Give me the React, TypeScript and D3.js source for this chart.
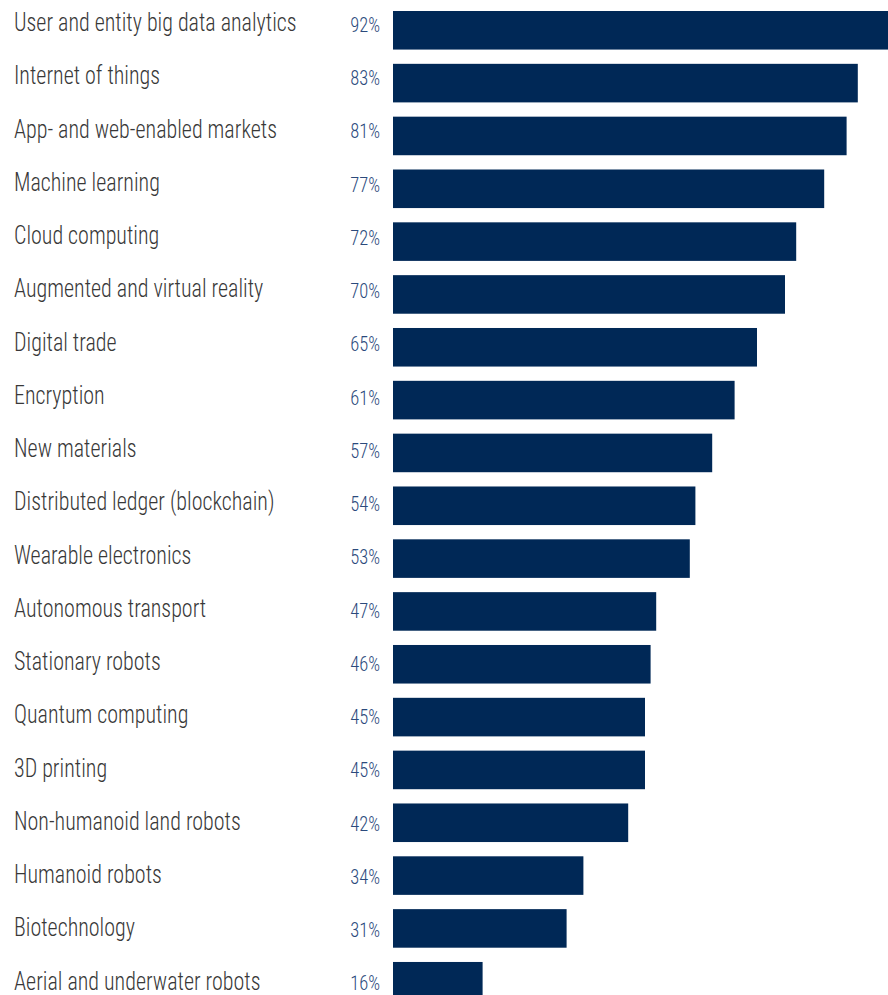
import React from "react";
import * as d3 from "d3";

const categories = [
  "User and entity big data analytics",
  "Internet of things",
  "App- and web-enabled markets",
  "Machine learning",
  "Cloud computing",
  "Augmented and virtual reality",
  "Digital trade",
  "Encryption",
  "New materials",
  "Distributed ledger (blockchain)",
  "Wearable electronics",
  "Autonomous transport",
  "Stationary robots",
  "Quantum computing",
  "3D printing",
  "Non-humanoid land robots",
  "Humanoid robots",
  "Biotechnology",
  "Aerial and underwater robots",
];
const values = [92, 83, 81, 77, 72, 70, 65, 61, 57, 54, 53, 47, 46, 45, 45, 42, 34, 31, 16];

const W = 888;
const H = 995;
const FONT = "'Roboto Condensed', 'Liberation Sans Narrow', 'Arial Narrow', sans-serif";

export default function App() {
  const x = d3.scaleLinear().domain([0, 100]).range([393, 953]);
  const y = d3
    .scaleBand<string>()
    .domain(categories)
    .range([0, 1003.8])
    .paddingInner(0.27)
    .paddingOuter(0.135);
  const off = 11 - (y(categories[0]) as number);
  const labelY = d3.scalePoint<string>().domain(categories).range([31, 989.5]);
  return (
    <svg
      width={W}
      height={H}
      style={{ position: "absolute", left: 0, top: 0, display: "block" }}
    >
      <rect width={W} height={H} fill="#ffffff" />
      {categories.map((c, i) => {
        const top = (y(c) as number) + off;
        const bh = y.bandwidth();
        const ly = labelY(c) as number;
        return (
          <g key={c}>
            <rect x={x(0)} y={top} width={x(values[i]) - x(0)} height={bh} fill="#002856" />
            <text
              transform={`translate(14,${ly}) scale(0.88,1)`}
              fontFamily={FONT}
              fontSize={25}
              fontWeight={300}
              fill="#383838"
            >
              {c}
            </text>
            <text
              transform={`translate(380,${ly + 0.8}) scale(0.95,1)`}
              textAnchor="end"
              fontFamily={FONT}
              fontSize={19.5}
              fontWeight={300}
              fill="#2b4a7c"
            >
              {d3.format("d")(values[i]) + "%"}
            </text>
          </g>
        );
      })}
    </svg>
  );
}
